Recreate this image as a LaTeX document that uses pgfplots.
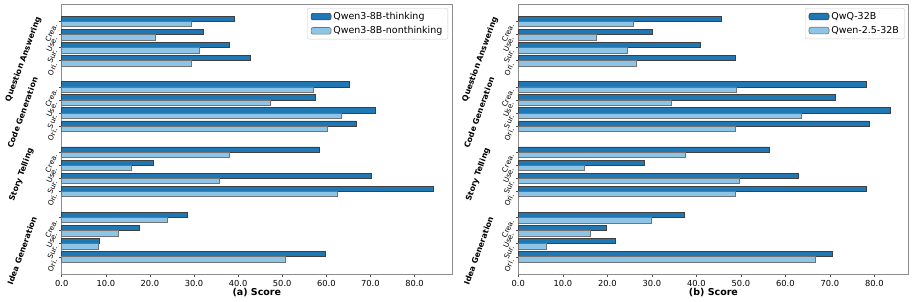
\documentclass[border=0pt]{standalone}
\usepackage{fontspec}
\setmainfont{DejaVu Sans}
\usepackage{pgfplots}
\pgfplotsset{compat=1.18}
\definecolor{darkb}{HTML}{1F77B4}
\definecolor{lightb}{HTML}{8EC4E6}
\tikzset{grp/.style={rotate=70, font=\fontsize{7.9}{9}\selectfont\bfseries, anchor=center}}
\pgfplotsset{
  myaxis/.style={
    scale only axis, width=390.3pt, height=270.3pt, anchor=south west,
    xbar, bar width=0.4, xmin=0, ymin=-1.34, ymax=19.34, enlargelimits=false, clip=false,
    xtick={0,10,...,80},
    xticklabel style={font=\fontsize{8.3}{10}\selectfont, /pgf/number format/.cd, fixed, fixed zerofill, precision=1, assume math mode=true},
    ytick={0,1,2,3,5,6,7,8,10,11,12,13,15,16,17,18},
    yticklabels={Ori.,Sur.,Use.,Crea.,Ori.,Sur.,Use.,Crea.,Ori.,Sur.,Use.,Crea.,Ori.,Sur.,Use.,Crea.},
    yticklabel style={font=\fontsize{7.2}{8}\selectfont, rotate=65, anchor=east, xshift=-3pt, yshift=2.5pt, inner sep=0.8pt},
    tick align=outside, major tick length=2.5pt, tick style={black!70, line width=0.5pt},
    xtick pos=bottom, ytick pos=left,
    axis line style={black!45, line width=0.7pt},
    xlabel style={font=\fontsize{9.5}{11}\selectfont\bfseries, at={(rel axis cs:0.5,0)}, anchor=center, yshift=-18.4pt},
    legend style={at={(rel axis cs:0.99,0.985)}, anchor=north east, font=\fontsize{9.5}{11}\selectfont, draw=black!20, rounded corners=2pt, inner xsep=3.5pt, inner ysep=2pt, row sep=1.5pt},
    legend cell align=left,
    legend image code/.code={\draw[#1] (0pt,-3.3pt) rectangle (20pt,3.3pt);},
  },
  thk/.style={fill=darkb, draw=black!75, line width=0.6pt, bar shift=0.2},
  nthk/.style={fill=lightb, draw=black!55, line width=0.6pt, bar shift=-0.2},
}
\begin{document}
\begin{tikzpicture}
\path[use as bounding box] (0pt,0pt) rectangle (913pt,302pt);
\begin{axis}[myaxis, at={(61.7pt,27.7pt)}, xmax=88.5, xlabel={(a) Score}]
\addplot[thk] coordinates {(39.2,18) (32.1,17) (38.0,16) (42.7,15) (65.1,13) (57.4,12) (71.1,11) (66.9,10) (58.5,8) (20.8,7) (70.3,6) (84.3,5) (28.5,3) (17.6,2) (8.5,1) (59.7,0)};
\addlegendentry{Qwen3-8B-thinking}
\addplot[nthk] coordinates {(29.4,18) (21.2,17) (31.2,16) (29.4,15) (57.0,13) (47.4,12) (63.3,11) (60.2,10) (38.0,8) (15.8,7) (35.7,6) (62.4,5) (23.9,3) (12.8,2) (8.3,1) (50.6,0)};
\addlegendentry{Qwen3-8B-nonthinking}
\node[grp] at ([xshift=-38.2pt]axis cs:0,15.11) {Question Answering};
\node[grp] at ([xshift=-39.2pt]axis cs:0,11.03) {Code Generation};
\node[grp] at ([xshift=-40.2pt]axis cs:0,6.27) {Story Telling};
\node[grp] at ([xshift=-39.7pt]axis cs:0,0.48) {Idea Generation};
\end{axis}
\begin{axis}[myaxis, at={(518.3pt,27.7pt)}, xmax=87.7, xlabel={(b) Score}]
\addplot[thk] coordinates {(45.5,18) (30.0,17) (40.9,16) (48.8,15) (78.1,13) (71.3,12) (83.5,11) (78.8,10) (56.5,8) (28.3,7) (63.0,6) (78.1,5) (37.4,3) (19.8,2) (21.8,1) (70.5,0)};
\addlegendentry{QwQ-32B}
\addplot[nthk] coordinates {(25.8,18) (17.6,17) (24.5,16) (26.5,15) (48.9,13) (34.4,12) (63.5,11) (48.7,10) (37.6,8) (14.8,7) (49.6,6) (48.7,5) (29.8,3) (16.2,2) (6.3,1) (66.8,0)};
\addlegendentry{Qwen-2.5-32B}
\node[grp] at ([xshift=-38.2pt]axis cs:0,15.11) {Question Answering};
\node[grp] at ([xshift=-39.2pt]axis cs:0,11.03) {Code Generation};
\node[grp] at ([xshift=-40.2pt]axis cs:0,6.27) {Story Telling};
\node[grp] at ([xshift=-39.7pt]axis cs:0,0.48) {Idea Generation};
\end{axis}
\end{tikzpicture}
\end{document}
